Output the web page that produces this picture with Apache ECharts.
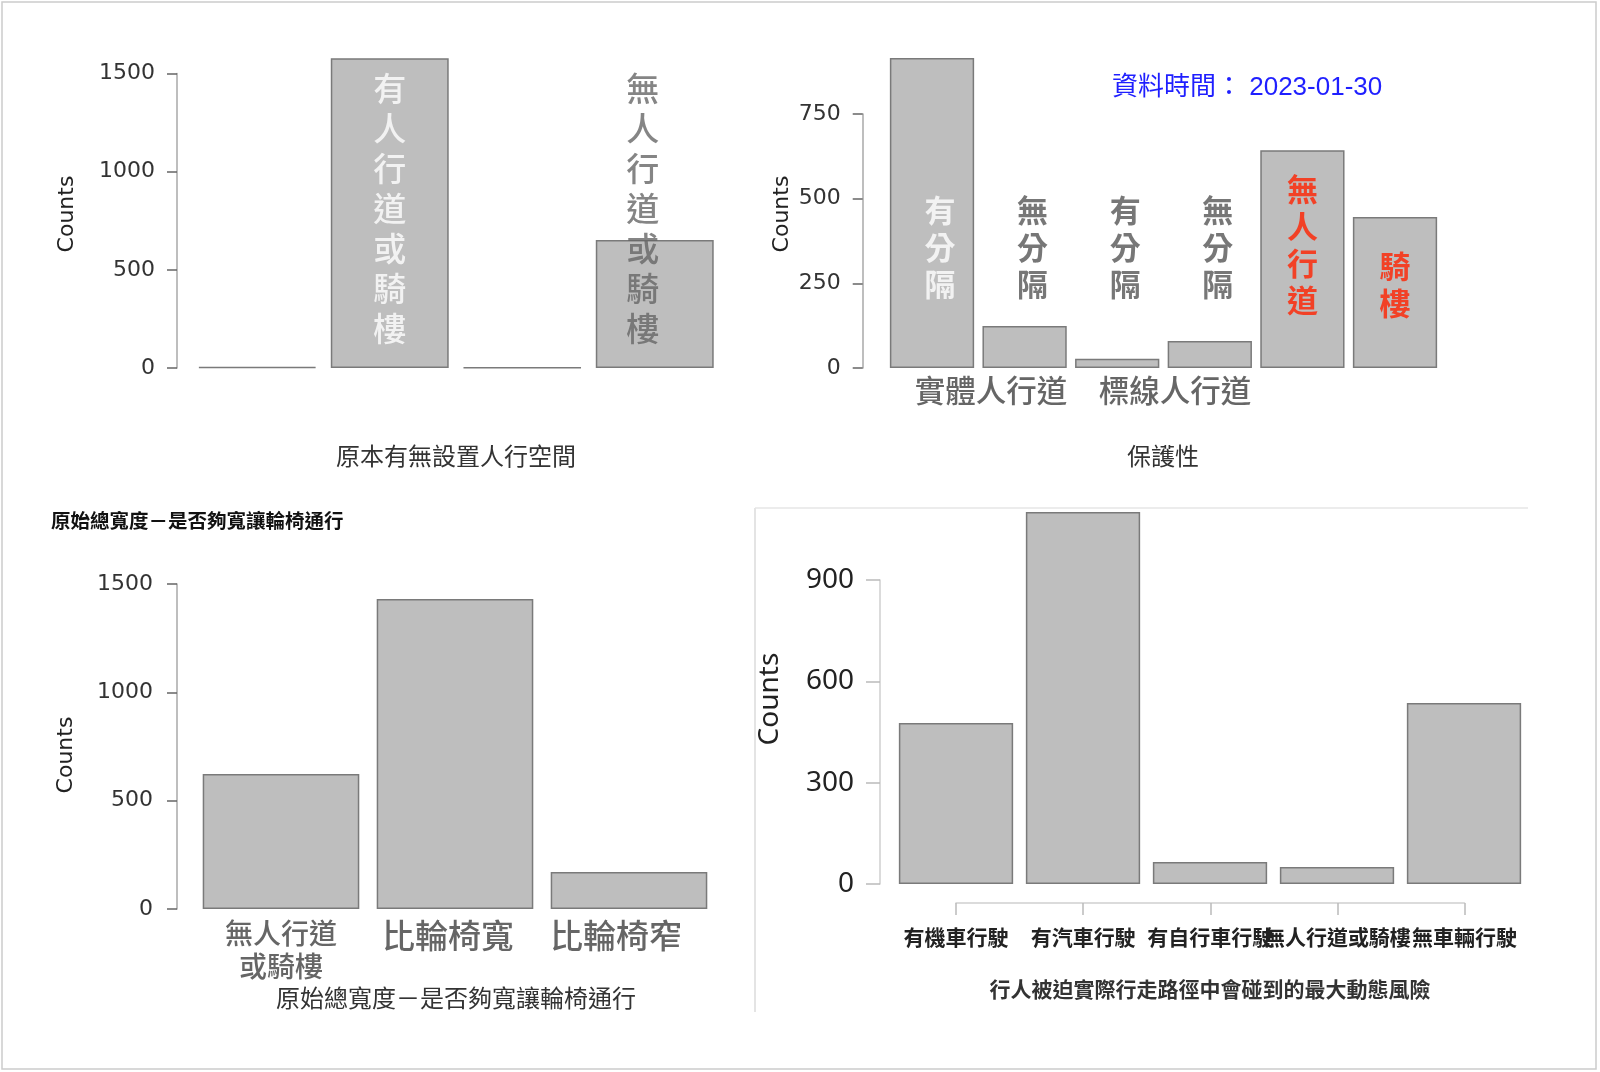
<!DOCTYPE html>
<html><head><meta charset="utf-8">
<script src="https://cdn.jsdelivr.net/npm/echarts@6/dist/echarts.min.js"></script>
<style>html,body{margin:0;padding:0;background:#fff}#c{width:1600px;height:1072px}</style>
</head><body><div id="c"></div>
<script>
// ---- Panel 1: 原本有無設置人行空間 ----
const p1Categories = ['（空白）', '有人行道或騎樓', '（其他）', '無人行道或騎樓'];
const p1Values = [6, 1578, 2, 652];
const p1InnerLabels = ['', '有人行道或騎樓', '', '無人行道或騎樓'];
const p1Ticks = [0, 500, 1000, 1500];

// ---- Panel 2: 保護性 ----
const p2Categories = ['實體人行道-有分隔', '實體人行道-無分隔', '標線人行道-有分隔', '標線人行道-無分隔', '無人行道', '騎樓'];
const p2Values = [915, 124, 27, 80, 643, 446];
const p2InnerLabels = ['有分隔', '無分隔', '有分隔', '無分隔', '無人行道', '騎樓'];
const p2GroupLabels = ['實體人行道', '標線人行道'];
const p2Ticks = [0, 250, 500, 750];
const p2Note = '資料時間： 2023-01-30';

// ---- Panel 3: 原始總寬度－是否夠寬讓輪椅通行 ----
const p3Categories = ['無人行道\n或騎樓', '比輪椅寬', '比輪椅窄'];
const p3Values = [623, 1431, 171];
const p3Ticks = [0, 500, 1000, 1500];
const p3Title = '原始總寬度－是否夠寬讓輪椅通行';

// ---- Panel 4: 行人被迫實際行走路徑中會碰到的最大動態風險 ----
const p4Categories = ['有機車行駛', '有汽車行駛', '有自行車行駛', '無人行道或騎樓', '無車輛行駛'];
const p4Values = [477, 1101, 65, 50, 536];
const p4Ticks = [0, 300, 600, 900];

const DV = "'DejaVu Sans','Noto Sans CJK TC',sans-serif";
const CJK = "'Noto Sans CJK TC','DejaVu Sans',sans-serif";
const vertical = t => t.split('').join('\n');

const barStyle = { color: '#bebebe', borderColor: '#7a7a7a', borderWidth: 1.5 };

function yAx(grid, ticks, offset, opts) {
  return Object.assign({
    type: 'value', gridIndex: grid, min: ticks[0], max: ticks[ticks.length - 1],
    interval: ticks[1] - ticks[0], offset: offset,
    axisLine: { show: true, lineStyle: { color: '#a8a8a8', width: 1.5 } },
    axisTick: { show: true, length: 10, lineStyle: { color: '#666', width: 1.5 } },
    axisLabel: { fontFamily: DV, fontSize: 22, color: '#333', margin: 22, formatter: v => String(v) },
    splitLine: { show: false }
  }, opts || {});
}

// label heights (data units) and styling for in-bar vertical text
const p1LabelAt = [815, 815, 815, 815];
const p1LabelColors = ['#ffffff', '#ffffff', '#666666', '#666666'];
const p1LabelShift = [0, 0, 0, -12];
const p2LabelAt = [357, 357, 357, 357, 363, 245];
const p2LabelColors = ['#ffffff', '#555555', '#555555', '#555555', '#ff2200', '#ff2200'];
const p2LabelShift = [8, 8, 8, 8, 0, 0];
const p3LabelStyle = ['s', 'b', 'c'];

const option = {
  animation: false,
  backgroundColor: '#ffffff',
  grid: [
    { left: 191, top: 73.5, width: 530, height: 294.5 },
    { left: 885.7, top: 114, width: 555.6, height: 254 },
    { left: 194, top: 584, width: 522, height: 325 },
    { left: 892.5, top: 580, width: 635, height: 304 },
    { left: 956, top: 902, width: 508.5, height: 1 }
  ],
  xAxis: [
    { type: 'category', gridIndex: 0, data: p1Categories, show: false },
    { type: 'category', gridIndex: 1, data: p2Categories, show: false },
    { type: 'category', gridIndex: 2, data: p3Categories,
      axisLine: { show: false }, axisTick: { show: false },
      axisLabel: { interval: 0, fontFamily: CJK, color: '#666', margin: 8,
        formatter: (v, i) => v.split('\n').map(l => '{' + p3LabelStyle[i] + '|' + l + '}').join('\n'),
        rich: {
          s: { fontFamily: CJK, fontSize: 28, lineHeight: 33, fontWeight: 500, color: '#666' },
          b: { fontFamily: CJK, fontSize: 33, lineHeight: 36, fontWeight: 500, color: '#666', padding: [0, 14, 0, 0] },
          c: { fontFamily: CJK, fontSize: 33, lineHeight: 36, fontWeight: 500, color: '#666', padding: [0, 26, 0, 0] }
        } } },
    { type: 'category', gridIndex: 3, data: p4Categories, show: false },
    { type: 'category', gridIndex: 4, data: p4Categories, boundaryGap: false,
      axisLine: { show: true, lineStyle: { color: '#d0d0d0', width: 1.5 } },
      axisTick: { show: true, length: 12, lineStyle: { color: '#bbb', width: 1.5 } },
      axisLabel: { interval: 0, fontFamily: CJK, fontSize: 21, fontWeight: 'bold', color: '#222', margin: 24 } }
  ],
  yAxis: [
    yAx(0, p1Ticks, 14),
    yAx(1, p2Ticks, 23),
    yAx(2, p3Ticks, 17, { axisLabel: { fontFamily: DV, fontSize: 22, color: '#333', margin: 24, formatter: v => String(v) } }),
    yAx(3, p4Ticks, 12.5, {
      axisLine: { show: true, lineStyle: { color: '#cfcfcf', width: 1.5 } },
      axisTick: { show: true, length: 14, lineStyle: { color: '#bbb', width: 1.5 } },
      axisLabel: { fontFamily: "'Noto Sans',sans-serif", fontSize: 28, color: '#222', margin: 26, formatter: v => String(v) } }),
    { type: 'value', gridIndex: 4, show: false }
  ],
  series: [
    { type: 'bar', xAxisIndex: 0, yAxisIndex: 0, data: p1Values, barCategoryGap: '11%', clip: false, itemStyle: barStyle, silent: true },
    { type: 'scatter', xAxisIndex: 0, yAxisIndex: 0, symbolSize: 1, itemStyle: { color: 'rgba(0,0,0,0)' }, silent: true, clip: false, z: 5,
      data: p1InnerLabels.map((t, i) => ({ value: [i, p1LabelAt[i]],
        label: { show: t !== '', position: 'inside', formatter: vertical(t), color: p1LabelColors[i], offset: [p1LabelShift[i], 0],
          fontFamily: CJK, fontSize: 33, lineHeight: 40, fontWeight: 500 } })) },
    { type: 'bar', xAxisIndex: 1, yAxisIndex: 1, data: p2Values, barCategoryGap: '9%', clip: false, itemStyle: barStyle, silent: true },
    { type: 'scatter', xAxisIndex: 1, yAxisIndex: 1, symbolSize: 1, itemStyle: { color: 'rgba(0,0,0,0)' }, silent: true, clip: false, z: 5,
      data: p2InnerLabels.map((t, i) => ({ value: [i, p2LabelAt[i]],
        label: { show: true, position: 'inside', formatter: vertical(t), color: p2LabelColors[i], offset: [p2LabelShift[i], 0],
          fontFamily: CJK, fontSize: 31, lineHeight: 37, fontWeight: 'bold' } })) },
    { type: 'bar', xAxisIndex: 2, yAxisIndex: 2, data: p3Values, barCategoryGap: '10%', clip: false, itemStyle: barStyle, silent: true },
    { type: 'bar', xAxisIndex: 3, yAxisIndex: 3, data: p4Values, barCategoryGap: '10%', clip: false, itemStyle: barStyle, silent: true }
  ],
  graphic: [
    { type: 'rect', shape: { x: 2, y: 2, width: 1594, height: 1067 }, style: { fill: 'none', stroke: '#cccccc', lineWidth: 1.5 }, silent: true },
    { type: 'line', shape: { x1: 755, y1: 508, x2: 1528, y2: 508 }, style: { stroke: '#ececec', lineWidth: 2 }, silent: true },
    { type: 'line', shape: { x1: 755, y1: 508, x2: 755, y2: 1012 }, style: { stroke: '#e4e4e4', lineWidth: 2 }, silent: true },
    // Counts labels
    { type: 'text', x: 67, y: 214, rotation: Math.PI / 2, style: { text: 'Counts', fontFamily: DV, fontSize: 22, fill: '#222', textAlign: 'center', textVerticalAlign: 'middle' } },
    { type: 'text', x: 782, y: 214, rotation: Math.PI / 2, style: { text: 'Counts', fontFamily: DV, fontSize: 22, fill: '#222', textAlign: 'center', textVerticalAlign: 'middle' } },
    { type: 'text', x: 66, y: 755, rotation: Math.PI / 2, style: { text: 'Counts', fontFamily: DV, fontSize: 22, fill: '#222', textAlign: 'center', textVerticalAlign: 'middle' } },
    { type: 'text', x: 770, y: 699, rotation: Math.PI / 2, style: { text: 'Counts', fontFamily: "'Noto Sans',sans-serif", fontSize: 28, fill: '#222', textAlign: 'center', textVerticalAlign: 'middle' } },
    // axis titles
    { type: 'text', x: 456, y: 456, style: { text: '原本有無設置人行空間', fontFamily: CJK, fontSize: 24, fill: '#333', textAlign: 'center', textVerticalAlign: 'middle' } },
    { type: 'text', x: 1163, y: 456, style: { text: '保護性', fontFamily: CJK, fontSize: 24, fill: '#333', textAlign: 'center', textVerticalAlign: 'middle' } },
    { type: 'text', x: 456, y: 998, style: { text: p3Title, fontFamily: CJK, fontSize: 24, fill: '#333', textAlign: 'center', textVerticalAlign: 'middle' } },
    { type: 'text', x: 1210, y: 989, style: { text: '行人被迫實際行走路徑中會碰到的最大動態風險', fontFamily: CJK, fontSize: 21, fontWeight: 'bold', fill: '#333', textAlign: 'center', textVerticalAlign: 'middle' } },
    // panel 3 title
    { type: 'text', x: 51, y: 521, style: { text: p3Title, fontFamily: CJK, fontSize: 19.5, fontWeight: 'bold', fill: '#111', textAlign: 'left', textVerticalAlign: 'middle' } },
    // panel 2 group labels and note
    { type: 'text', x: 991, y: 390, style: { text: p2GroupLabels[0], fontFamily: CJK, fontSize: 30.5, fontWeight: 500, fill: '#666', textAlign: 'center', textVerticalAlign: 'middle' } },
    { type: 'text', x: 1175, y: 390, style: { text: p2GroupLabels[1], fontFamily: CJK, fontSize: 30.5, fontWeight: 500, fill: '#666', textAlign: 'center', textVerticalAlign: 'middle' } },
    { type: 'text', x: 1112, y: 88, style: { text: p2Note, fontFamily: "'Liberation Sans','Noto Sans CJK TC',sans-serif", fontSize: 26, fill: '#1f1fff', textAlign: 'left', textVerticalAlign: 'middle' } }
  ]
};

const chart = echarts.init(document.getElementById('c'), null, { renderer: 'canvas', width: 1600, height: 1072 });
chart.setOption(option);
</script>
</body></html>
